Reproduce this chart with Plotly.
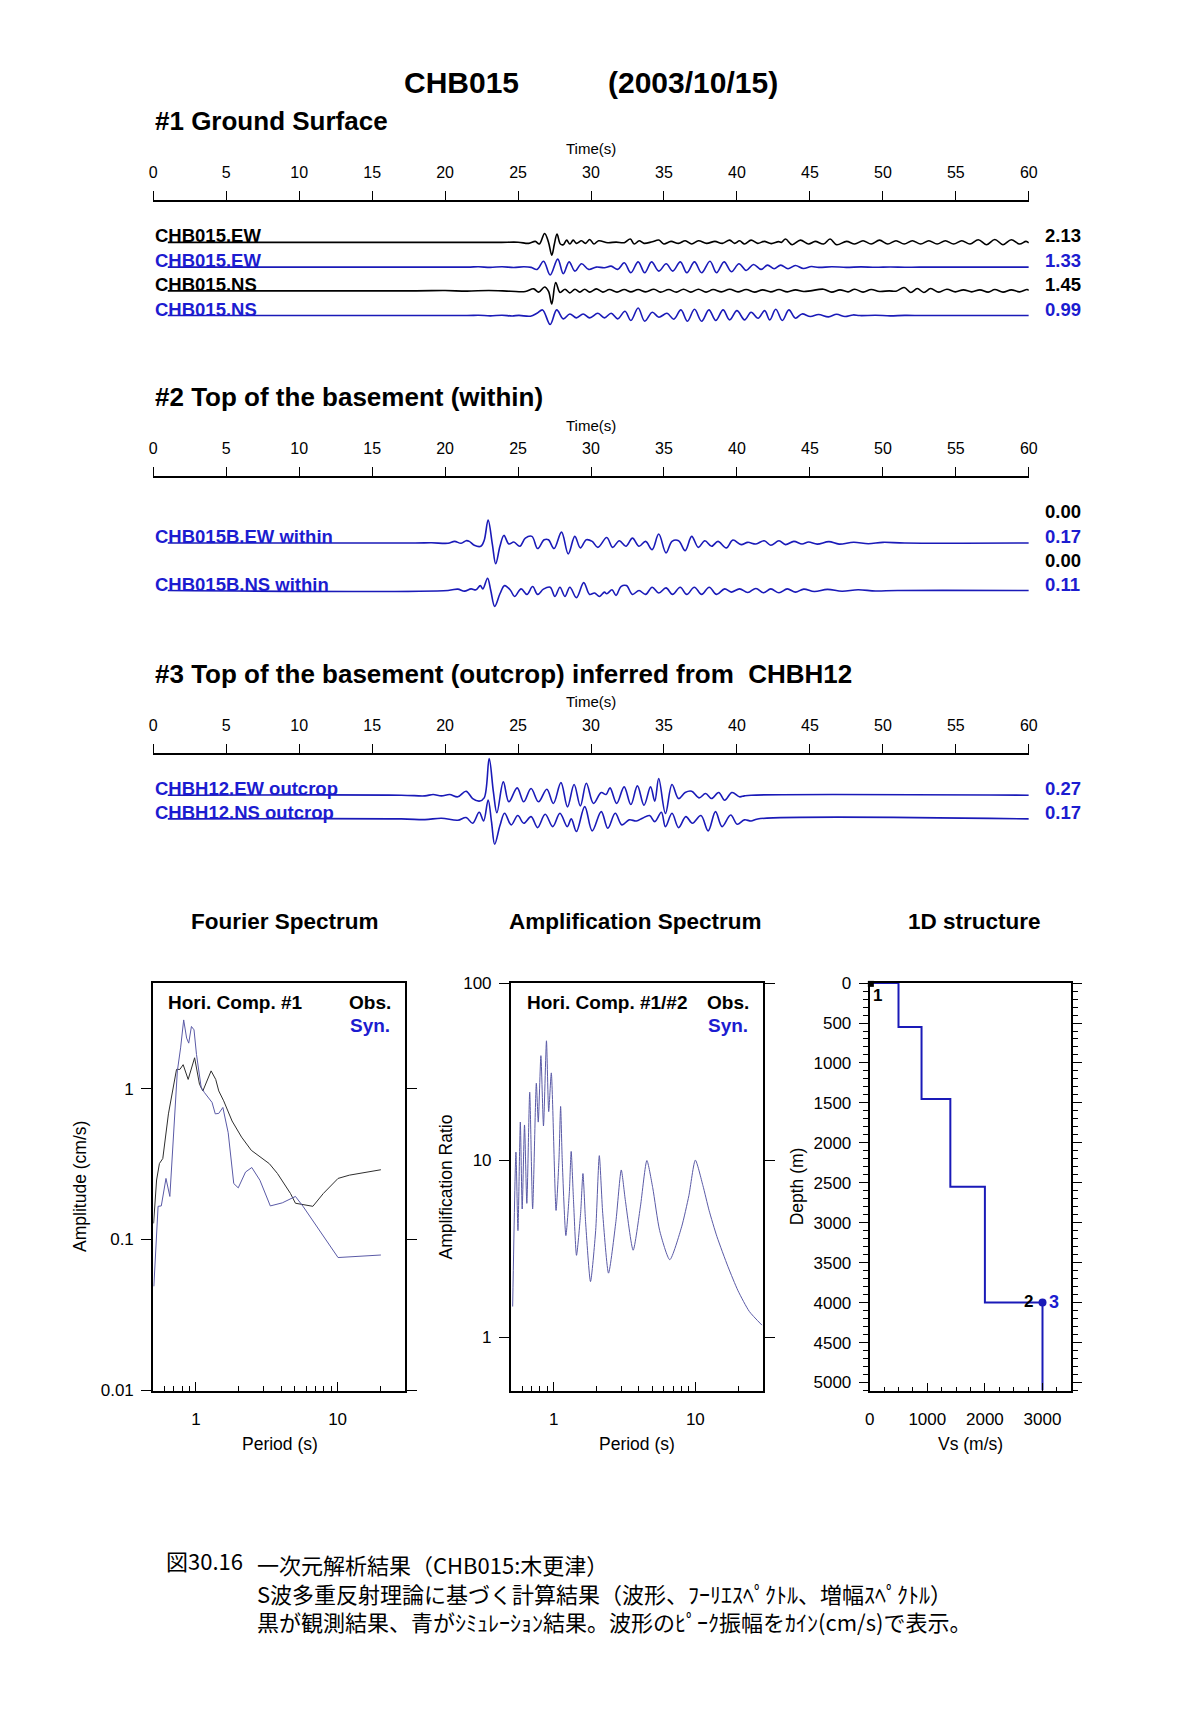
import math
import plotly.graph_objects as go

W, H = 1189, 1713
FONT = "Liberation Sans, Arial, Helvetica, sans-serif"
JFONT = "Noto Sans CJK JP, sans-serif"
BLACK = "#000000"
BLUE = "#1a1ab8"
BLUE_TXT = "#1c1cd0"

# ---------------- data ----------------
time_ticks = list(range(0, 61, 5))

# Section 1 (ground surface) waveforms: (time s, velocity cm/s)
ew_obs = [(1, 0), (23.5, 0), (25.0, 0.03), (25.73, -0.16), (26.18, 0.16), (26.46, -0.27), (26.82, 1.48),
          (27.09, 0), (27.31, -2.13), (27.49, -0.27), (27.67, 1.37), (27.9, -0.27), (28.1, -0.38),
          (28.33, 0.38), (28.55, -0.27), (28.78, 0.38), (29.0, -0.16), (29.35, 0.27), (29.62, -0.16),
          (29.91, 0.49), (30.2, -0.27), (30.52, 0.27), (31.15, -0.05), (31.72, 0.05), (32.28, -0.05),
          (32.69, 0.55), (32.96, -0.27), (33.3, 0.27), (33.63, -0.16), (34.2, 0.11), (34.65, 0.38),
          (34.99, -0.27), (35.48, 0.16), (36.0, -0.16), (36.46, 0.27), (36.9, -0.27), (37.36, 0.27),
          (37.92, -0.16), (38.49, 0.16), (39.0, -0.16), (39.5, 0.38), (39.84, -0.16), (40.18, 0.27),
          (40.52, -0.27), (40.97, 0.38), (41.42, -0.16), (41.87, 0.16), (42.35, -0.2), (42.85, 0.12),
          (43.05, 0.0), (43.33, 0.55), (43.78, -0.38), (44.35, 0.38), (44.91, -0.27), (45.36, 0.16),
          (45.93, -0.27), (46.38, 0.55), (46.83, -0.38), (47.51, 0.16), (48.07, -0.27), (48.64, 0.27),
          (49.2, -0.27), (49.77, 0.38), (50.33, -0.27), (50.9, 0.27), (51.46, -0.27), (52.02, 0.27),
          (52.59, -0.27), (53.15, 0.27), (53.72, -0.27), (54.28, 0.27), (54.85, -0.27), (55.41, 0.27),
          (55.97, -0.27), (56.54, 0.44), (57.1, -0.38), (57.67, 0.49), (58.23, -0.38), (58.8, 0.44),
          (59.36, -0.27), (59.81, 0.16), (60.0, -0.1)]

ew_syn = [(1, 0), (21.5, 0), (22.3, 0.05), (23.1, -0.05), (23.9, 0.06), (24.7, -0.06), (25.4, 0.05),
          (25.9, -0.05), (26.3, -0.38), (26.75, 0.98), (27.2, -1.31), (27.72, 1.33), (28.1, -1.09),
          (28.5, 0.87), (28.9, -0.66), (29.35, 0.55), (29.84, -0.38), (30.36, 0.0), (30.92, -0.1),
          (31.38, 0.16), (31.83, -0.38), (32.28, 0.71), (32.73, -0.93), (33.23, 0.87), (33.68, -0.93),
          (34.15, 0.87), (34.65, -0.66), (35.15, 0.55), (35.6, -0.66), (36.12, 0.87), (36.57, -0.93),
          (37.09, 0.87), (37.58, -0.93), (38.15, 0.98), (38.6, -0.93), (39.12, 0.87), (39.62, -0.77),
          (40.14, 0.55), (40.63, -0.55), (41.13, 0.44), (41.65, -0.38), (42.1, 0.33), (42.55, -0.27),
          (43.0, 0.33), (43.5, -0.27), (44.0, 0.27), (44.55, -0.22), (45.1, 0.1), (45.6, -0.05),
          (46.5, 0.05), (47.5, -0.04), (48.5, 0.04), (49.5, -0.03), (50.5, 0.03), (51.5, -0.02),
          (52.5, 0), (60, 0)]

ns_obs = [(1, 0), (18, 0), (20, 0.03), (21.5, -0.03), (23, 0.04), (24.5, -0.04), (25.5, -0.07),
          (26.07, 0.22), (26.41, -0.14), (26.82, 0.43), (27.09, -0.07), (27.31, -1.45), (27.58, 0.91),
          (27.88, -0.18), (28.22, 0.18), (28.55, -0.22), (28.9, 0.18), (29.23, -0.14), (29.57, 0.18),
          (29.91, -0.14), (30.36, 0.22), (30.81, -0.14), (31.26, 0.14), (31.78, -0.14), (32.28, 0.14),
          (32.73, -0.11), (33.23, 0.14), (33.75, -0.11), (34.31, 0.18), (34.76, -0.14), (35.33, 0.14),
          (35.85, -0.14), (36.34, 0.18), (36.84, -0.14), (37.36, 0.18), (37.88, -0.14), (38.37, 0.14),
          (38.94, -0.11), (39.5, 0.18), (40.07, -0.11), (40.63, 0.14), (41.2, -0.14), (41.76, 0.11),
          (42.32, -0.11), (42.88, 0.14), (43.45, -0.11), (44.01, 0.11), (44.57, -0.07), (45.03, 0),
          (45.93, 0.18), (46.49, -0.14), (47.06, 0.11), (47.62, -0.11), (48.07, 0.18), (48.64, -0.14),
          (49.2, 0.14), (49.77, -0.07), (50.44, 0), (50.9, -0.04), (51.46, 0.36), (51.91, -0.18),
          (52.36, 0.25), (52.81, -0.18), (53.27, 0.25), (53.83, -0.14), (54.39, 0.18), (54.96, -0.11),
          (55.52, 0.11), (56.09, -0.11), (56.65, 0.11), (57.22, -0.14), (57.67, 0.14), (58.23, -0.14),
          (58.8, 0.11), (59.36, -0.11), (59.88, 0.14), (60, 0.05)]

ns_syn = [(1, 0), (21.5, 0), (22.3, 0.03), (23.1, -0.03), (23.9, 0.04), (24.6, -0.04), (25.06, 0.02),
          (25.85, -0.07), (26.3, 0.25), (26.68, 0.62), (27.2, -0.98), (27.65, 0.62), (28.1, -0.36),
          (28.55, 0.18), (29.0, -0.25), (29.46, 0.18), (29.91, -0.25), (30.47, 0.25), (30.92, -0.25),
          (31.38, 0.25), (31.83, -0.36), (32.33, 0.47), (32.73, -0.54), (33.23, 0.83), (33.68, -0.62),
          (34.2, 0.36), (34.65, -0.18), (35.21, 0.25), (35.67, -0.4), (36.16, 0.62), (36.61, -0.62),
          (37.09, 0.69), (37.58, -0.62), (38.08, 0.62), (38.55, -0.54), (39.05, 0.62), (39.5, -0.47),
          (40.0, 0.54), (40.52, -0.47), (40.97, 0.36), (41.45, -0.3), (41.9, 0.54), (42.25, -0.47),
          (42.66, 0.69), (43.11, -0.54), (43.56, 0.62), (44.01, -0.29), (44.46, 0.18), (45.03, -0.11),
          (45.59, 0.11), (46.27, -0.14), (46.83, 0.14), (47.4, -0.11), (47.96, 0.07), (48.41, 0),
          (49.5, 0.03), (50.5, -0.03), (51.5, 0.02), (52.9, 0), (60, 0)]

# Section 2 (top of basement, within)
ew_within = [(1, 0), (17.94, 0), (19.07, 0.002), (20.2, -0.002), (20.65, 0.012), (21.1, -0.002),
             (21.44, 0.017), (21.66, 0.012), (22.0, -0.017), (22.45, -0.024), (22.68, 0.02), (22.95, 0.17),
             (23.24, -0.01), (23.47, -0.153), (23.76, -0.024), (24.03, 0.056), (24.37, -0.007),
             (24.71, 0.007), (25.12, -0.024), (25.5, 0.036), (25.95, 0.049), (26.34, -0.041),
             (26.79, 0.024), (27.08, 0.024), (27.47, -0.041), (27.98, 0.08), (28.44, -0.08), (28.89, 0.049),
             (29.27, -0.036), (29.68, 0.024), (30.08, 0.012), (30.47, -0.032), (31.08, 0.041),
             (31.48, -0.032), (31.94, 0.017), (32.39, -0.024), (32.84, 0.036), (33.29, -0.024),
             (33.74, 0.012), (34.19, -0.049), (34.64, 0.066), (35.14, -0.073), (35.55, 0.012),
             (36.0, 0.017), (36.45, -0.056), (36.9, 0.049), (37.35, -0.032), (37.8, 0.017), (38.26, -0.024),
             (38.7, 0.012), (39.27, -0.036), (39.72, 0.022), (40.29, -0.012), (40.74, 0.005),
             (41.3, -0.007), (41.87, 0.017), (42.32, -0.017), (42.88, 0.017), (43.33, -0.012),
             (43.9, 0.012), (44.46, -0.007), (44.91, 0.007), (45.5, -0.008), (46.3, 0.01), (47.0, -0.008),
             (48.0, 0.006), (49.0, -0.005), (50.0, 0.005), (51.5, 0), (60, 0)]

ns_within = [(1, 0), (20.2, 0), (20.87, 0.01), (21.33, -0.005), (21.78, 0.012), (22.12, 0.005),
             (22.41, 0.036), (22.59, 0.012), (22.91, 0.09), (23.13, 0.0), (23.4, -0.117), (23.76, -0.024),
             (24.08, 0.036), (24.49, 0.0), (24.76, -0.044), (25.21, 0.012), (25.61, -0.029), (26.0, 0.029),
             (26.34, -0.029), (26.74, 0.01), (27.2, 0.024), (27.53, -0.044), (27.87, 0.024),
             (28.21, -0.044), (28.55, 0.024), (29.0, -0.053), (29.5, 0.058), (29.9, -0.029),
             (30.24, -0.019), (30.58, -0.044), (30.92, -0.012), (31.08, -0.024), (31.44, 0.005),
             (31.71, -0.036), (32.05, 0.029), (32.43, 0.036), (32.84, -0.029), (33.29, 0.0),
             (33.74, -0.029), (34.19, 0.024), (34.64, -0.019), (35.14, 0.019), (35.59, -0.029),
             (36.11, 0.024), (36.56, -0.029), (37.08, 0.024), (37.58, -0.029), (38.1, 0.024),
             (38.6, -0.029), (39.16, 0.012), (39.61, -0.012), (40.18, 0.012), (40.74, -0.015),
             (41.3, 0.015), (41.82, -0.017), (42.32, 0.012), (42.88, -0.017), (43.45, 0.012),
             (44.01, -0.012), (44.58, 0.01), (45.3, -0.008), (46.2, 0.008), (47.2, -0.006), (48.3, 0.005),
             (49.5, -0.004), (51.0, 0), (60, 0)]

# Section 3 (top of basement, outcrop, inferred from CHBH12)
ew_outcrop = [(1, 0), (17.0, 0), (18.62, -0.005), (19.18, 0.005), (19.75, -0.005), (20.31, 0.005),
              (20.87, -0.012), (21.44, 0.029), (21.89, -0.025), (22.34, -0.044), (22.68, -0.02),
              (23.02, 0.27), (23.31, 0.025), (23.55, -0.13), (23.99, 0.098), (24.37, -0.049),
              (24.94, 0.054), (25.39, -0.049), (25.89, 0.049), (26.4, -0.049), (26.97, 0.044),
              (27.42, -0.061), (27.94, 0.093), (28.39, -0.086), (28.84, 0.079), (29.27, -0.079),
              (29.68, 0.088), (30.17, -0.061), (30.7, 0.02), (31.03, 0.005), (31.3, 0.054),
              (31.76, -0.061), (32.27, 0.061), (32.73, -0.069), (33.18, 0.069), (33.63, -0.074),
              (34.08, 0.061), (34.37, -0.044), (34.64, 0.123), (35.1, -0.135), (35.55, 0.079),
              (36.0, -0.025), (36.45, 0.02), (36.9, 0.029), (37.4, -0.02), (37.85, 0.012), (38.26, -0.025),
              (38.75, 0.02), (39.16, -0.037), (39.66, 0.02), (40.17, -0.012), (40.51, -0.005),
              (40.97, 0), (60, 0)]

ns_outcrop = [(1, 0), (17.0, 0), (18.62, -0.005), (19.75, 0.005), (20.87, -0.01), (21.44, 0.01),
              (21.89, -0.032), (22.34, 0.049), (22.64, -0.015), (22.95, 0.14), (23.18, -0.02),
              (23.4, -0.187), (23.76, -0.049), (24.08, 0.042), (24.53, -0.044), (24.98, 0.025),
              (25.39, -0.032), (25.89, 0.017), (26.34, -0.064), (26.86, 0.034), (27.38, -0.057),
              (27.87, 0.042), (28.37, -0.057), (28.65, 0.0), (29.0, -0.093), (29.57, 0.091),
              (30.08, -0.088), (30.7, 0.054), (31.15, -0.069), (31.66, 0.042), (32.12, -0.044),
              (32.61, -0.007), (33.11, -0.015), (33.52, 0.005), (34.01, 0.025), (34.37, -0.02),
              (34.82, 0.049), (35.1, -0.057), (35.55, 0.042), (36.0, -0.064), (36.5, 0.017),
              (36.95, -0.032), (37.53, 0.025), (38.03, -0.088), (38.53, 0.054), (38.98, -0.057),
              (39.57, 0.029), (40.02, -0.039), (40.51, -0.007), (40.97, -0.015), (41.42, 0), (60, 0)]

peak_sec1 = ["2.13", "1.33", "1.45", "0.99"]
peak_sec2 = ["0.00", "0.17", "0.00", "0.11"]
peak_sec3 = ["0.27", "0.17"]

# Fourier spectrum: (period s, amplitude cm/s)
fourier_obs = [(0.503, 0.128), (0.528, 0.248), (0.553, 0.319), (0.584, 0.344), (0.64, 0.68), (0.692, 1.015),
               (0.73, 1.34), (0.771, 1.34), (0.813, 1.44), (0.882, 1.15), (0.979, 1.6), (1.06, 1.07),
               (1.12, 0.965), (1.28, 1.31), (1.38, 1.15), (1.45, 0.965), (1.57, 0.83), (1.8, 0.61),
               (2.1, 0.477), (2.46, 0.39), (2.74, 0.36), (3.3, 0.318), (3.76, 0.274), (4.65, 0.202),
               (5.04, 0.174), (5.76, 0.17), (6.69, 0.166), (7.93, 0.202), (10.07, 0.254), (12.1, 0.267),
               (20.2, 0.29)]
fourier_syn = [(0.505, 0.049), (0.541, 0.166), (0.57, 0.167), (0.615, 0.254), (0.655, 0.193), (0.712, 0.75),
               (0.74, 1.31), (0.78, 1.86), (0.82, 2.85), (0.86, 2.16), (0.89, 2.0), (0.93, 2.58), (0.97, 2.45),
               (1.01, 1.68), (1.09, 1.015), (1.15, 0.94), (1.22, 0.873), (1.3, 0.81), (1.37, 0.68),
               (1.45, 0.685), (1.55, 0.75), (1.69, 0.51), (1.85, 0.235), (1.99, 0.22), (2.24, 0.28),
               (2.48, 0.3), (2.83, 0.247), (3.35, 0.167), (4.07, 0.175), (5.04, 0.193), (5.7, 0.166),
               (10.07, 0.076), (20.2, 0.079)]

# Amplification spectrum (#1/#2, synthetic): (period s, ratio)
amp_syn = [(0.514, 1.49), (0.542, 11.1), (0.56, 4.0), (0.582, 16.4), (0.6, 5.3), (0.623, 15.8), (0.647, 5.7),
           (0.678, 24.2), (0.711, 5.3), (0.755, 27.2), (0.779, 16.4), (0.813, 38.9), (0.848, 15.6),
           (0.89, 47.2), (0.923, 18.8), (0.963, 31.1), (1.04, 5.2), (1.09, 10.0), (1.12, 20.1), (1.15, 10.0),
           (1.22, 3.75), (1.29, 6.5), (1.33, 11.2), (1.38, 6.0), (1.45, 2.9), (1.55, 5.0), (1.61, 8.4),
           (1.68, 4.5), (1.82, 2.06), (1.98, 4.0), (2.1, 10.6), (2.22, 5.0), (2.44, 2.3), (2.75, 4.5),
           (3.0, 8.8), (3.2, 6.0), (3.64, 3.1), (4.1, 5.5), (4.55, 9.95), (5.0, 7.0), (5.6, 4.0),
           (6.6, 2.74), (8.0, 4.2), (9.0, 6.3), (10.0, 10.0), (11.3, 7.2), (12.5, 5.2), (14.2, 3.7),
           (17.0, 2.5), (20.0, 1.83), (24.0, 1.4), (29.5, 1.17)]

# 1D structure: S-wave velocity of each layer and depth of its bottom
layer_vs = [0, 500, 900, 1400, 2000, 3000]
layer_bottom = [0, 550, 1450, 2550, 4000, 5100]
station_vs = [3000]
station_depth = [4000]
surface_vs = [20]
surface_depth = [10]

period_minor = [0.5, 0.6, 0.7, 0.8, 0.9, 2, 3, 4, 5, 6, 7, 8, 9, 20, 30]


# ---------------- helpers ----------------
def xd(x0, x1):
    return [x0 / W, x1 / W]


def yd(top, bottom):
    return [1 - bottom / H, 1 - top / H]


annotations = []


def ann(text, x, y, size=16, color=BLACK, xanchor="left", yanchor="middle", bold=False, angle=0,
        family=FONT):
    if bold:
        text = "<b>" + text + "</b>"
    annotations.append(dict(text=text, x=x / W, y=1 - y / H, xref="paper", yref="paper",
                            xanchor=xanchor, yanchor=yanchor, showarrow=False, textangle=angle,
                            align="left", font=dict(family=family, size=size, color=color)))


fig = go.Figure()

# ---------------- waveform sections ----------------
sections = [
    dict(top=195, bottom=335, xa="x", ya="y"),
    dict(top=474, bottom=624, xa="x2", ya="y2"),
    dict(top=754, bottom=864, xa="x3", ya="y3"),
]

waves = [
    (ew_obs, 0, 236, 6.1, BLACK, "CHB015.EW", BLACK),
    (ew_syn, 0, 261, 6.1, BLUE, "CHB015.EW", BLUE_TXT),
    (ns_obs, 0, 285, 9.2, BLACK, "CHB015.NS", BLACK),
    (ns_syn, 0, 310, 9.2, BLUE, "CHB015.NS", BLUE_TXT),
    (ew_within, 1, 540, 137, BLUE, "CHB015B.EW within", BLUE_TXT),
    (ns_within, 1, 588, 137, BLUE, "CHB015B.NS within", BLUE_TXT),
    (ew_outcrop, 2, 795, 137, BLUE, "CHBH12.EW outcrop", BLUE_TXT),
    (ns_outcrop, 2, 819, 137, BLUE, "CHBH12.NS outcrop", BLUE_TXT),
]

LBL = 18.5
for data, si, base, gain, col, lab, lcol in waves:
    s = sections[si]
    off = base - s["top"]
    fig.add_trace(go.Scatter(x=[p[0] for p in data], y=[-off + p[1] * gain for p in data],
                             mode="lines", line=dict(color=col, width=1.6, shape="spline", smoothing=1.0),
                             xaxis=s["xa"], yaxis=s["ya"], hoverinfo="skip", showlegend=False))
    ann(lab, 150, base - 6.5, size=LBL, color=lcol, bold=True)

for lbl, base, col in zip(peak_sec1, [236, 261, 285, 310], [BLACK, BLUE_TXT, BLACK, BLUE_TXT]):
    ann(lbl, 1050, base - 6.5, size=LBL, color=col, bold=True)
for lbl, base, col in zip(peak_sec2, [515, 540, 564, 588], [BLACK, BLUE_TXT, BLACK, BLUE_TXT]):
    ann(lbl, 1050, base - 6.5, size=LBL, color=col, bold=True)
for lbl, base in zip(peak_sec3, [795, 819]):
    ann(lbl, 1050, base - 6.5, size=LBL, color=BLUE_TXT, bold=True)

layout_axes = {}
for i, s in enumerate(sections):
    xk = "xaxis" if i == 0 else "xaxis%d" % (i + 1)
    yk = "yaxis" if i == 0 else "yaxis%d" % (i + 1)
    layout_axes[xk] = dict(domain=xd(150, 1036), range=[0, 60], side="top", anchor=s["ya"],
                           showline=True, linecolor=BLACK, linewidth=2, ticks="outside", ticklen=9,
                           tickwidth=1, tickcolor=BLACK, tickvals=time_ticks, showgrid=False,
                           zeroline=False, tickfont=dict(family=FONT, size=16, color=BLACK),
                           ticklabelstandoff=6, fixedrange=True)
    layout_axes[yk] = dict(domain=yd(s["top"], s["bottom"]), range=[-(s["bottom"] - s["top"]), 0],
                           visible=False, fixedrange=True, anchor=s["xa"])

# titles
ann("CHB015", 462, 74, size=30, bold=True, xanchor="center")
ann("(2003/10/15)", 696, 74, size=30, bold=True, xanchor="center")
ann("#1 Ground Surface", 150, 113, size=26, bold=True)
ann("#2 Top of the basement (within)", 150, 392, size=26, bold=True)
ann("#3 Top of the basement (outcrop) inferred from\u00a0 CHBH12", 150, 672, size=26, bold=True)
for yy in [141, 421, 700]:
    ann("Time(s)", 593, yy, size=15, xanchor="center")

# ---------------- bottom panels ----------------
PT, PB = 985, 1397
tickfont = dict(family=FONT, size=17, color=BLACK)
prange = [math.log10(0.5), math.log10(30)]


def log_x(dom, yanchor, overlay=None):
    if overlay is None:
        return dict(type="log", range=prange, domain=dom, anchor=yanchor, side="bottom", showline=True,
                    mirror=True, linecolor=BLACK, linewidth=2, ticks="inside", ticklen=9, tickwidth=1,
                    tickcolor=BLACK, tickvals=[1, 10], ticktext=["1", "10"], tickfont=tickfont,
                    ticklabelstandoff=12, showgrid=False, zeroline=False, fixedrange=True,
                    minor=dict(tickvals=period_minor, ticks="inside", ticklen=5, tickcolor=BLACK,
                               showgrid=False))
    return dict(type="log", range=prange, domain=dom, anchor=yanchor, overlaying=overlay, side="top",
                showline=False, ticks="outside", ticklen=9, tickwidth=1, tickcolor=BLACK,
                tickvals=[1, 10], showticklabels=False, showgrid=False, zeroline=False, fixedrange=True,
                minor=dict(tickvals=period_minor, ticks="outside", ticklen=5, tickcolor=BLACK,
                           showgrid=False))


# Fourier
layout_axes["xaxis4"] = log_x(xd(150, 405), "y4")
layout_axes["xaxis5"] = log_x(xd(150, 405), "y4", overlay="x4")
layout_axes["yaxis4"] = dict(type="log", range=[-2, math.log10(5)], domain=yd(PT, PB), anchor="x4",
                             showline=True, mirror="ticks", linecolor=BLACK, linewidth=2, ticks="outside",
                             ticklen=10, tickcolor=BLACK, tickvals=[0.01, 0.1, 1], ticktext=["0.01", "0.1", "1"],
                             tickfont=tickfont, ticklabelstandoff=4, showgrid=False, zeroline=False,
                             fixedrange=True)
fig.add_trace(go.Scatter(x=[p[0] for p in fourier_obs], y=[p[1] for p in fourier_obs], mode="lines",
                         line=dict(color="#2e2e2e", width=1), xaxis="x4", yaxis="y4",
                         hoverinfo="skip", showlegend=False))
fig.add_trace(go.Scatter(x=[p[0] for p in fourier_syn], y=[p[1] for p in fourier_syn], mode="lines",
                         line=dict(color="#5a5aa6", width=1), xaxis="x4", yaxis="y4",
                         hoverinfo="skip", showlegend=False))

# Amplification
layout_axes["xaxis6"] = log_x(xd(512, 767), "y6")
layout_axes["xaxis7"] = log_x(xd(512, 767), "y6", overlay="x6")
layout_axes["yaxis6"] = dict(type="log", range=[math.log10(0.5), 2], domain=yd(PT, PB), anchor="x6",
                             showline=True, mirror="ticks", linecolor=BLACK, linewidth=2, ticks="outside",
                             ticklen=10, tickcolor=BLACK, tickvals=[1, 10, 100], ticktext=["1", "10", "100"],
                             tickfont=tickfont, ticklabelstandoff=4, showgrid=False, zeroline=False,
                             fixedrange=True)
fig.add_trace(go.Scatter(x=[p[0] for p in amp_syn], y=[p[1] for p in amp_syn], mode="lines",
                         line=dict(color="#5a5aa6", width=1, shape="spline", smoothing=0.6),
                         xaxis="x6", yaxis="y6", hoverinfo="skip", showlegend=False))

# 1D structure
layout_axes["xaxis8"] = dict(range=[0, 3500], domain=xd(875, 1079), anchor="y8", side="bottom",
                             showline=True, mirror=True, linecolor=BLACK, linewidth=2, ticks="inside",
                             ticklen=8, tickcolor=BLACK, tickvals=[0, 1000, 2000, 3000], tickfont=tickfont,
                             ticklabelstandoff=12, showgrid=False, zeroline=False, fixedrange=True,
                             minor=dict(dtick=250, ticks="inside", ticklen=4, tickcolor=BLACK, showgrid=False))
layout_axes["xaxis9"] = dict(range=[0, 3500], domain=xd(875, 1079), anchor="y8", overlaying="x8",
                             side="top", showline=False, ticks="outside", ticklen=8, tickcolor=BLACK,
                             tickvals=[0, 1000, 2000, 3000], showticklabels=False, showgrid=False,
                             zeroline=False, fixedrange=True,
                             minor=dict(dtick=250, ticks="outside", ticklen=4, tickcolor=BLACK, showgrid=False))
layout_axes["yaxis8"] = dict(range=[5100, 0], domain=yd(PT, PB), anchor="x8", showline=True,
                             mirror="ticks", linecolor=BLACK, linewidth=2, ticks="outside", ticklen=9,
                             tickcolor=BLACK, dtick=500, tick0=0, tickfont=tickfont, ticklabelstandoff=4,
                             showgrid=False, zeroline=False, fixedrange=True,
                             minor=dict(dtick=100, ticks="outside", ticklen=5, tickcolor=BLACK, showgrid=False))
fig.add_trace(go.Scatter(x=layer_vs, y=layer_bottom, mode="lines", line=dict(color=BLUE, width=2, shape="hv"),
                         xaxis="x8", yaxis="y8", hoverinfo="skip", showlegend=False, cliponaxis=False))
fig.add_trace(go.Scatter(x=station_vs, y=station_depth, mode="markers",
                         marker=dict(color=BLUE, size=8), xaxis="x8", yaxis="y8",
                         hoverinfo="skip", showlegend=False, cliponaxis=False))
fig.add_trace(go.Scatter(x=surface_vs, y=surface_depth, mode="markers",
                         marker=dict(color=BLACK, size=6, symbol="square"), xaxis="x8", yaxis="y8",
                         hoverinfo="skip", showlegend=False, cliponaxis=False))

# panel texts
ann("Fourier Spectrum", 283, 923, size=22.5, bold=True, xanchor="center")
ann("Amplification Spectrum", 638, 923, size=22.5, bold=True, xanchor="center")
ann("1D structure", 981, 923, size=22.5, bold=True, xanchor="center")
ann("Hori. Comp. #1", 163, 1005, size=19, bold=True)
ann("Obs.", 393, 1005, size=19, bold=True, xanchor="right")
ann("Syn.", 392, 1028, size=19, bold=True, xanchor="right", color=BLUE_TXT)
ann("Hori. Comp. #1/#2", 526, 1005, size=19, bold=True)
ann("Obs.", 755, 1005, size=19, bold=True, xanchor="right")
ann("Syn.", 754, 1028, size=19, bold=True, xanchor="right", color=BLUE_TXT)
ann("Amplitude (cm/s)", 76, 1191, size=17.5, xanchor="center", angle=-90)
ann("Amplification Ratio", 446, 1191, size=17.5, xanchor="center", angle=-90)
ann("Depth (m)", 801, 1191, size=17.5, xanchor="center", angle=-90)
ann("Period (s)", 278, 1451, size=17.5, xanchor="center")
ann("Period (s)", 640, 1451, size=17.5, xanchor="center")
ann("Vs (m/s)", 977, 1451, size=17.5, xanchor="center")
ann("1", 876, 998, size=17, bold=True)
ann("2", 1036, 1307, size=17, bold=True, xanchor="center")
ann("3", 1061, 1307, size=18, bold=True, xanchor="center", color=BLUE_TXT)

# caption
CAP = 22
ann("図30.16", 161, 1568, size=CAP, family=JFONT)
ann("一次元解析結果（CHB015:木更津）<br>"
    "S波多重反射理論に基づく計算結果（波形、ﾌｰﾘｴｽﾍﾟｸﾄﾙ、増幅ｽﾍﾟｸﾄﾙ）<br>"
    "黒が観測結果、青がｼﾐｭﾚｰｼｮﾝ結果。波形のﾋﾟｰｸ振幅をｶｲﾝ(cm/s)で表示。",
    253, 1554, size=CAP, family=JFONT, yanchor="top")

fig.update_layout(width=W, height=H, margin=dict(l=0, r=0, t=0, b=0), paper_bgcolor="white",
                  plot_bgcolor="white", showlegend=False, annotations=annotations,
                  font=dict(family=FONT, color=BLACK), **layout_axes)

fig.write_html("out.html", config={"displayModeBar": False},
               post_script="document.body.style.margin='0';document.body.style.overflow='hidden';")
